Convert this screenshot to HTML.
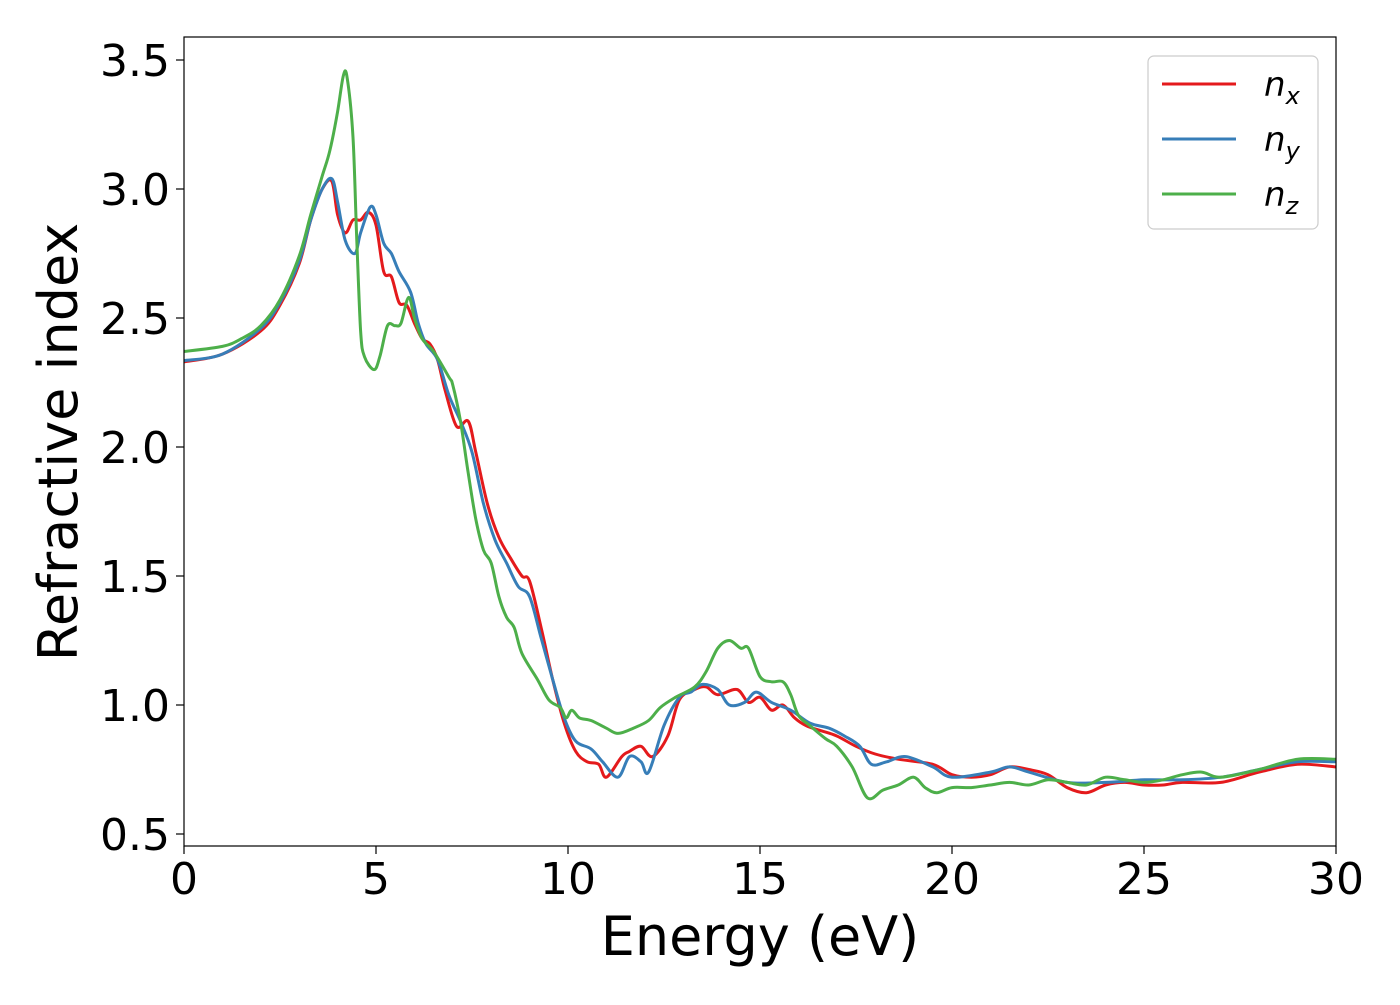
<!DOCTYPE html>
<html><head><meta charset="utf-8"><style>
body{margin:0;background:#fff}
svg text{font-family:"DejaVu Sans","Liberation Sans",sans-serif}
</style></head><body>
<svg id="chart" width="1400" height="1000" xmlns="http://www.w3.org/2000/svg">
<rect width="1400" height="1000" fill="#fff"/>
<g id="series"></g>
<rect x="184" y="37" width="1152" height="809" fill="none" stroke="#000" stroke-width="1.2"/>
<g id="xticks"></g>
<g id="yticks"></g>
<text x="760" y="955" font-size="54" text-anchor="middle">Energy (eV)</text>
<text transform="translate(77,442) rotate(-90)" font-size="54" text-anchor="middle">Refractive index</text>
<g>
<rect x="1148" y="56" width="170" height="173" rx="6" fill="#fff" stroke="#ccc" stroke-width="1.2"/>
<g><line x1="1162" y1="84" x2="1236" y2="84" stroke="#e41a1c" stroke-width="3"/><text x="1264" y="96" font-size="34" font-style="italic">n<tspan font-size="24" dy="8">x</tspan></text></g>
<g><line x1="1162" y1="139" x2="1236" y2="139" stroke="#377eb8" stroke-width="3"/><text x="1264" y="151" font-size="34" font-style="italic">n<tspan font-size="24" dy="8">y</tspan></text></g>
<g><line x1="1162" y1="194" x2="1236" y2="194" stroke="#4daf4a" stroke-width="3"/><text x="1264" y="206" font-size="34" font-style="italic">n<tspan font-size="24" dy="8">z</tspan></text></g>
</g>
</svg>
<script>
const xTicks=[0,5,10,15,20,25,30];
const yTicks=[0.5,1.0,1.5,2.0,2.5,3.0,3.5];
const yTickLabels=["0.5","1.0","1.5","2.0","2.5","3.0","3.5"];
const nxE=[0,1,2,2.5,3,3.3,3.6,3.85,4.0,4.2,4.4,4.6,4.8,5.0,5.2,5.4,5.6,5.8,6.0,6.2,6.4,6.6,6.8,7.1,7.4,7.6,7.9,8.2,8.5,8.8,9.0,9.3,9.6,9.9,10.2,10.5,10.8,11.0,11.4,11.6,11.9,12.2,12.6,12.9,13.3,13.6,13.9,14.4,14.7,15.0,15.3,15.6,15.9,16.2,16.6,17.0,17.5,18.0,18.6,19.5,20,20.5,21,21.5,22,22.5,23,23.5,24,24.5,25,25.5,26,27,28,29,30];
const nxV=[2.33,2.36,2.45,2.55,2.71,2.88,3.0,3.03,2.9,2.83,2.88,2.88,2.91,2.86,2.68,2.66,2.56,2.55,2.48,2.42,2.40,2.34,2.22,2.08,2.1,1.98,1.78,1.65,1.57,1.5,1.48,1.3,1.1,0.93,0.82,0.78,0.77,0.72,0.8,0.82,0.84,0.80,0.88,1.02,1.06,1.07,1.04,1.06,1.01,1.03,0.98,1.0,0.95,0.92,0.9,0.88,0.84,0.81,0.79,0.77,0.73,0.72,0.73,0.76,0.75,0.73,0.68,0.66,0.69,0.70,0.69,0.69,0.70,0.70,0.74,0.77,0.76];
const nyE=[0,1,2,2.5,3,3.3,3.6,3.85,4.0,4.2,4.45,4.6,4.85,5.0,5.2,5.4,5.6,5.9,6.1,6.3,6.6,6.9,7.2,7.5,7.8,8.1,8.4,8.7,9.0,9.3,9.6,9.9,10.2,10.6,10.9,11.3,11.6,11.9,12.1,12.5,12.9,13.2,13.5,13.9,14.2,14.6,14.9,15.3,15.8,16.3,16.8,17.2,17.6,17.9,18.3,18.8,19.5,20,21,21.5,22,23,24,25,26,27,28,29,30];
const nyV=[2.335,2.36,2.46,2.56,2.72,2.88,3.0,3.04,2.95,2.80,2.75,2.83,2.93,2.9,2.79,2.75,2.68,2.6,2.48,2.40,2.34,2.2,2.1,1.98,1.78,1.64,1.55,1.46,1.42,1.26,1.10,0.95,0.86,0.83,0.78,0.72,0.80,0.78,0.74,0.92,1.03,1.05,1.08,1.06,1.00,1.01,1.05,1.01,0.98,0.93,0.91,0.88,0.84,0.77,0.78,0.8,0.76,0.72,0.74,0.76,0.74,0.7,0.7,0.71,0.71,0.72,0.75,0.78,0.78];
const nzE=[0,1,1.5,2,2.5,3,3.3,3.6,3.8,4.0,4.15,4.25,4.4,4.5,4.6,4.7,4.95,5.1,5.3,5.5,5.65,5.85,6.0,6.2,6.5,6.9,7.0,7.2,7.4,7.6,7.8,8.0,8.2,8.4,8.6,8.8,9.2,9.5,9.8,9.95,10.1,10.3,10.6,11.0,11.3,11.7,12.1,12.4,12.8,13.3,13.6,13.9,14.2,14.5,14.7,15.0,15.3,15.6,15.8,16.0,16.3,16.7,17.0,17.4,17.8,18.2,18.6,19.0,19.3,19.6,20,20.5,21,21.5,22,22.5,23,23.5,24,24.5,25,25.5,26,26.5,27,28,29,30];
const nzV=[2.37,2.39,2.42,2.47,2.57,2.74,2.90,3.05,3.15,3.3,3.44,3.43,3.2,2.8,2.45,2.35,2.30,2.35,2.47,2.47,2.48,2.58,2.5,2.42,2.37,2.27,2.24,2.1,1.9,1.72,1.6,1.55,1.42,1.34,1.3,1.2,1.1,1.02,0.99,0.95,0.98,0.95,0.94,0.91,0.89,0.91,0.94,0.99,1.03,1.07,1.13,1.22,1.25,1.22,1.22,1.11,1.09,1.09,1.04,0.96,0.92,0.87,0.84,0.76,0.64,0.67,0.69,0.72,0.68,0.66,0.68,0.68,0.69,0.70,0.69,0.71,0.7,0.69,0.72,0.71,0.70,0.71,0.73,0.74,0.72,0.75,0.79,0.79];
const X0=184,X1=1336,XMIN=0,XMAX=30;
function xs(e){return X0+(e-XMIN)/(XMAX-XMIN)*(X1-X0);}
function ys(v){return 834-(v-0.5)/3.0*774;}
const NS="http://www.w3.org/2000/svg";
function smooth(E,V){
  const p=E.map((e,i)=>[xs(e),ys(V[i])]);
  let d="M"+p[0][0].toFixed(1)+","+p[0][1].toFixed(1);
  for(let i=0;i<p.length-1;i++){
    const a=p[Math.max(0,i-1)],b=p[i],c=p[i+1],n=p[Math.min(p.length-1,i+2)];
    const c1=[b[0]+(c[0]-a[0])/6,b[1]+(c[1]-a[1])/6],c2=[c[0]-(n[0]-b[0])/6,c[1]-(n[1]-b[1])/6];
    d+=" C"+c1[0].toFixed(1)+","+c1[1].toFixed(1)+" "+c2[0].toFixed(1)+","+c2[1].toFixed(1)+" "+c[0].toFixed(1)+","+c[1].toFixed(1);
  }
  return d;
}
const sg=document.getElementById("series");
function addLine(E,V,col,name){
  const el=document.createElementNS(NS,"path");
  el.setAttribute("d",smooth(E,V));el.setAttribute("fill","none");el.setAttribute("stroke",col);el.setAttribute("stroke-width","3");
  
  
  sg.appendChild(el);
}
addLine(nxE,nxV,"#e41a1c","line-nx");
addLine(nyE,nyV,"#377eb8","line-ny");
addLine(nzE,nzV,"#4daf4a","line-nz");
const xg=document.getElementById("xticks");
xTicks.forEach(t=>{
  const x=xs(t);
  const l=document.createElementNS(NS,"line");
  l.setAttribute("x1",x);l.setAttribute("x2",x);l.setAttribute("y1",846);l.setAttribute("y2",854);l.setAttribute("stroke","#000");l.setAttribute("stroke-width","1.2");
  
  
  xg.appendChild(l);
  const tx=document.createElementNS(NS,"text");
  tx.setAttribute("x",x);tx.setAttribute("y",894);tx.setAttribute("font-size","44");tx.setAttribute("text-anchor","middle");
  tx.textContent=t;
  
  
  xg.appendChild(tx);
});
const yg=document.getElementById("yticks");
yTicks.forEach((t,i)=>{
  const y=ys(t);
  const l=document.createElementNS(NS,"line");
  l.setAttribute("x1",176);l.setAttribute("x2",184);l.setAttribute("y1",y);l.setAttribute("y2",y);l.setAttribute("stroke","#000");l.setAttribute("stroke-width","1.2");
  
  
  yg.appendChild(l);
  const tx=document.createElementNS(NS,"text");
  tx.setAttribute("x",170);tx.setAttribute("y",y+16);tx.setAttribute("font-size","44");tx.setAttribute("text-anchor","end");
  tx.textContent=yTickLabels[i];
  
  
  yg.appendChild(tx);
});
</script>
</body></html>
